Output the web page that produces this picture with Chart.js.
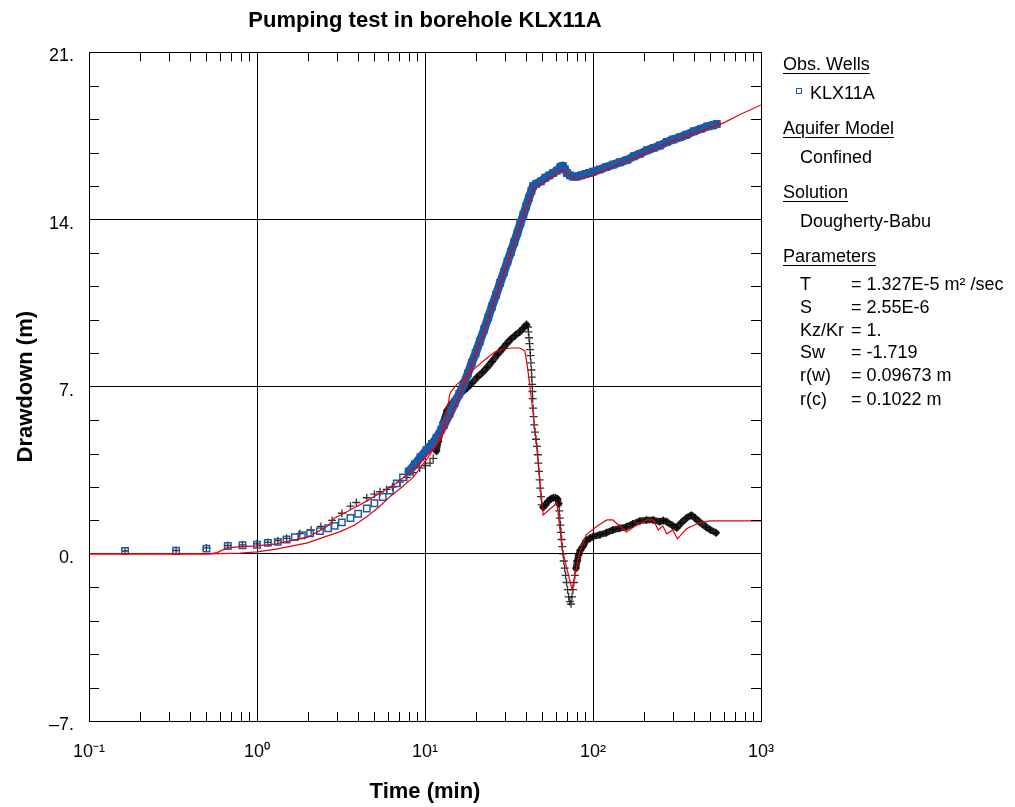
<!DOCTYPE html>
<html>
<head>
<meta charset="utf-8">
<script src="https://cdn.jsdelivr.net/npm/chart.js@4.4.0/dist/chart.umd.min.js"></script>
<style>
  body { margin: 0; background: #fff; }
  #wrap { position: relative; width: 1015px; height: 807px; }
  #panel { position: absolute; left: 0; top: 0; font-family: Arial, "Liberation Sans", sans-serif; font-size: 18px; color: #000; }
  #panel div { position: absolute; white-space: nowrap; line-height: 22px; }
  #panel .hd { text-decoration: underline; text-underline-offset: 3px; text-decoration-thickness: 1px; }
  #panel .sq { width: 4px; height: 4px; border: 1.5px solid #1c5aa8; }
</style>
</head>
<body>
<div id="wrap">
  <canvas id="chart"></canvas>
  <div id="panel"></div>
</div>
<script>
// KLX11A observation data (time in min, drawdown in m)
const obsTime = [0.164, 0.33, 0.5, 0.67, 0.82, 1.0, 1.16, 1.33, 1.5, 1.68, 1.85, 2.07, 2.37, 2.65, 2.9, 3.2, 3.6, 4.0, 4.5, 5.0, 5.6, 6.2, 6.8, 7.4,
  8.0, 8.7, 9.4, 10.2, 11.0, 11.7, 12.5, 13.0, 14.0, 15.0, 16.0, 17.0, 18.0, 19.0, 20.0, 21.2, 22.5, 23.8, 25.0, 26.5, 28.0, 29.5, 31.0, 32.5,
  34.0, 35.5, 37.0, 38.5, 40.0, 41.5, 43.0, 44.0, 46, 49, 52, 55, 58, 61, 64, 66, 68, 70, 73, 76, 80, 85, 90, 95, 100, 110, 120, 132, 145,
  160, 175, 190, 210, 230, 250, 275, 300, 330, 360, 400, 440, 480, 520, 545];
const obsDrawdown = [0.12, 0.13, 0.22, 0.33, 0.36, 0.38, 0.46, 0.5, 0.6, 0.7, 0.78, 0.86, 0.95, 1.07, 1.17, 1.32, 1.5, 1.68, 1.9, 2.12, 2.38, 2.65, 2.95, 3.2,
  3.45, 3.75, 4.05, 4.35, 4.6, 4.85, 5.2, 5.4, 5.85, 6.3, 6.7, 7.1, 7.55, 8.0, 8.4, 8.9, 9.4, 9.9, 10.35, 10.85, 11.35, 11.8, 12.25, 12.65,
  13.05, 13.45, 13.85, 14.2, 14.55, 14.9, 15.2, 15.4, 15.5, 15.6, 15.75, 15.85, 15.95, 16.05, 16.2, 16.25, 16.1, 15.95, 15.85, 15.8, 15.8, 15.85, 15.9, 15.95, 16.0, 16.1, 16.2, 16.3, 16.4,
  16.5, 16.65, 16.75, 16.9, 17.0, 17.1, 17.25, 17.35, 17.45, 17.55, 17.7, 17.8, 17.9, 17.95, 18.0];

// second data set (black crosses)
const wellTime = [0.164, 0.33, 0.5, 0.67, 0.82, 1.0, 1.16, 1.33, 1.5, 1.8, 2.1, 2.4, 2.8, 3.2, 3.6, 3.9, 4.5, 5.0, 5.4, 5.9, 6.4, 7.1, 7.8, 8.5,
  9.3, 10.0, 10.7, 11.2, 11.7, 12.0, 12.3, 12.8, 13.5, 14.3, 15.2, 16.2, 17.8, 19.0, 20.5, 22, 23.4, 25, 27, 29, 30.6, 32.5, 34.5, 36.7, 38.5, 40.2,
  41.0, 41.3, 41.6, 41.9, 42.2, 42.4, 42.7, 43.0, 43.2, 43.4, 43.6, 43.8, 44.0, 44.3, 44.7, 45.2, 45.8, 46.4, 46.9, 47.3, 47.7, 48.1, 48.5, 49.0, 49.5,
  50.5, 52, 54, 56, 58, 60, 61.5, 62.5, 63.0, 63.5, 64.0, 64.5, 65.0, 65.6, 66.3, 67, 67.8, 68.7, 69.6, 70.6, 71.6, 72.8, 74, 75, 76, 77, 78, 79.2, 80.5, 82,
  84, 87, 91, 95.6, 100, 110, 120, 131, 144, 158, 172, 190, 208, 228, 250, 262, 275, 295, 315, 335, 360, 385,
  405, 430, 470, 500, 540];
const wellDrawdown = [0.12, 0.14, 0.25, 0.35, 0.38, 0.42, 0.48, 0.55, 0.65, 0.85, 1.0, 1.15, 1.4, 1.7, 2.0, 2.15, 2.35, 2.5, 2.6, 2.7, 2.8, 3.0, 3.2, 3.4,
  3.6, 3.7, 3.8, 4.0, 4.3, 4.7, 5.06, 5.5, 6.0, 6.25, 6.5, 6.7, 6.95, 7.15, 7.4, 7.6, 7.8, 8.05, 8.35, 8.6, 8.8, 9.0, 9.15, 9.3, 9.45, 9.6,
  9.5, 9.3, 9.05, 8.8, 8.55, 8.3, 8.0, 7.7, 7.4, 7.1, 6.8, 6.5, 6.1, 5.75, 5.4, 5.1, 4.8, 4.5, 4.15, 3.8, 3.45, 3.1, 2.75, 2.4, 2.05,
  1.95, 2.05, 2.2, 2.3, 2.35, 2.35, 2.3, 2.1, 1.8, 1.5, 1.2, 0.9, 0.6, 0.3, 0.0, -0.3, -0.6, -0.9, -1.2, -1.5, -1.8, -2.0, -2.1, -1.8, -1.5, -1.2, -0.9, -0.6, -0.3, -0.05,
  0.15, 0.3, 0.55, 0.65, 0.72, 0.8, 0.88, 1.0, 1.07, 1.13, 1.25, 1.38, 1.42, 1.42, 1.34, 1.4, 1.34, 1.2, 1.09, 1.3, 1.5, 1.62,
  1.5, 1.34, 1.13, 1.0, 0.88];

// fitted curve for KLX11A
const fitObsTime = [0.1, 0.5, 0.6, 0.8, 1.0, 1.3, 1.6, 2.0, 2.5, 3.1, 3.8, 4.5, 5.3, 6.2, 7.3, 8.5, 10.2, 12.3, 14.0, 16.0, 18, 20, 22.5, 25, 28, 31, 34, 37, 40, 43, 44.5,
  55, 66, 75, 80, 90, 100, 130, 160, 200, 250, 300, 350, 400, 500, 600, 750, 1000];
const fitObsDrawdown = [0, 0, 0.01, 0.03, 0.08, 0.2, 0.32, 0.46, 0.7, 0.92, 1.2, 1.55, 1.95, 2.4, 2.8, 3.2, 3.95, 4.77, 5.6, 6.6, 7.5, 8.35, 9.35, 10.3, 11.3, 12.2, 13.0, 13.8, 14.5, 15.0, 15.3,
  15.7, 16.1, 15.75, 15.7, 15.75, 15.85, 16.2, 16.45, 16.75, 17.05, 17.3, 17.45, 17.6, 17.85, 18.05, 18.4, 18.8];

// fitted curve for the black data
const fitWellTime = [0.1, 0.52, 0.58, 0.66, 0.8, 1.0, 1.3, 1.57, 2.0, 2.6, 2.9, 3.3, 3.9, 4.6, 5.4, 6.8, 8.9, 11.7, 12.8, 13.5, 14.1, 15.5, 17.8, 20, 23.4, 26, 29.1,
  33, 36.7, 39.3, 40.8, 44, 46.4, 50.5, 61, 65.7, 75, 83, 91, 106, 121, 131, 158, 182, 209, 228, 245, 260, 275, 298, 318, 360, 430, 495, 1000];
const fitWellDrawdown = [0, 0, 0.05, 0.25, 0.3, 0.33, 0.42, 0.54, 0.7, 1.13, 1.5, 1.7, 1.97, 2.25, 2.55, 2.97, 3.65, 4.56, 5.2, 6.0, 6.74, 7.1, 7.45, 7.8, 8.2, 8.45, 8.58,
  8.62, 8.62, 8.5, 7.8, 5.9, 4.35, 1.63, 2.13, 0.17, -1.5, 0.04, 0.8, 1.17, 1.42, 1.42, 0.92, 1.21, 1.42, 1.42, 1.0, 1.17, 0.84, 1.0, 0.63, 1.05, 1.3, 1.38, 1.38];

const xTickValues = [0.1, 1, 10, 100, 1000];
const xTickLabels = ['10\u207B\u00B9', '10\u2070', '10\u00B9', '10\u00B2', '10\u00B3'];

const params = [
  ['T', '= 1.327E-5 m\u00B2 /sec'],
  ['S', '= 2.55E-6'],
  ['Kz/Kr', '= 1.'],
  ['Sw', '= -1.719'],
  ['r(w)', '= 0.09673 m'],
  ['r(c)', '= 0.1022 m']
];

const pts = (xs, ys) => xs.map((x, i) => ({ x, y: ys[i] }));
const FONT = 'Arial, "Liberation Sans", sans-serif';
Chart.defaults.font.family = FONT;
Chart.defaults.color = '#000';

// minor ticks + frame
const frame = {
  id: 'frame',
  afterDraw(chart) {
    const { ctx, chartArea: a, scales: { x, y } } = chart;
    ctx.save();
    ctx.strokeStyle = '#000';
    ctx.lineWidth = 1;
    ctx.beginPath();
    for (const d of [0.1, 1, 10, 100]) {
      for (let k = 2; k <= 9; k++) {
        const px = Math.round(x.getPixelForValue(d * k)) + 0.5;
        ctx.moveTo(px, a.top); ctx.lineTo(px, a.top + 9);
        ctx.moveTo(px, a.bottom); ctx.lineTo(px, a.bottom - 9);
      }
    }
    for (let i = 1; i < 20; i++) {
      if (i % 5 === 0) continue;
      const py = Math.round(y.getPixelForValue(-7 + i * 1.4)) + 0.5;
      ctx.moveTo(a.left, py); ctx.lineTo(a.left + 10, py);
      ctx.moveTo(a.right, py); ctx.lineTo(a.right - 10, py);
    }
    ctx.stroke();
    ctx.strokeRect(Math.round(a.left) + 0.5, Math.round(a.top) + 0.5, Math.round(a.right - a.left), Math.round(a.bottom - a.top));
    ctx.restore();
  }
};

const BLACK = 'rgba(0,0,0,0.85)';
const BLUE = '#1c5aa8';
const blackBand = c => {
  const t0 = c.p0.parsed.x, t1 = c.p1.parsed.x;
  return (t0 > 11.5 && t1 < 41) || (t0 > 50 && t1 < 62.6) || t0 > 79 ? BLACK : 'rgba(0,0,0,0)';
};

new Chart(document.getElementById('chart'), {
  type: 'scatter',
  data: {
    datasets: [
      { data: pts(fitObsTime, fitObsDrawdown), showLine: true, borderColor: '#e8000b', borderWidth: 1.2, pointRadius: 0, order: 0 },
      { data: pts(fitWellTime, fitWellDrawdown), showLine: true, borderColor: '#e8000b', borderWidth: 1.2, pointRadius: 0, order: 0 },
      { data: pts(wellTime, wellDrawdown), showLine: true, borderColor: BLACK, borderWidth: 6.5,
        segment: { borderColor: blackBand },
        pointStyle: 'cross', pointRadius: 4, borderJoinStyle: 'round', borderCapStyle: 'round', pointBorderColor: 'rgba(0,0,0,0.8)', pointBorderWidth: 1.3, order: 2 },
      { data: pts(obsTime, obsDrawdown), showLine: true, borderColor: BLUE, borderWidth: 8.5,
        segment: { borderColor: c => c.p0.parsed.x >= 7.9 ? BLUE : 'rgba(0,0,0,0)' },
        pointStyle: 'rect', pointRadius: 4.5, pointBorderColor: BLUE, pointBackgroundColor: 'rgba(0,0,0,0)', pointBorderWidth: 1.5, borderJoinStyle: 'round', borderCapStyle: 'round', order: 1 }
    ]
  },
  options: {
    responsive: true,
    maintainAspectRatio: false,
    animation: false,
    events: [],
    layout: { padding: { right: 254, left: 0, top: 0, bottom: 0 } },
    plugins: {
      legend: { display: false },
      tooltip: { enabled: false },
      title: {
        display: true, fullSize: false, text: 'Pumping test in borehole KLX11A', color: '#000',
        font: { size: 22, weight: 'bold' }, padding: { top: 8, bottom: 18 }
      }
    },
    scales: {
      x: {
        type: 'logarithmic', min: 0.1, max: 1000,
        afterBuildTicks: s => { s.ticks = xTickValues.map(v => ({ value: v })); },
        afterFit: s => { s.height = 86; },
        ticks: { autoSkip: false, maxRotation: 0, padding: 20, font: { size: 18 }, color: '#000',
          callback: (v) => xTickLabels[xTickValues.indexOf(v)] },
        grid: { color: '#000', lineWidth: 1, drawTicks: false },
        border: { color: '#000' },
        title: { display: true, text: 'Time (min)', font: { size: 22, weight: 'bold' }, color: '#000', padding: { top: 2, bottom: 2 } }
      },
      y: {
        min: -7, max: 21,
        afterBuildTicks: s => { s.ticks = [-7, 0, 7, 14, 21].map(v => ({ value: v })); },
        afterFit: s => { s.width = 89; },
        ticks: { padding: 15, labelOffset: 4, font: { size: 18 }, color: '#000',
          callback: v => (v < 0 ? '\u2013' + Math.abs(v) : v) + '.' },
        grid: { color: '#000', lineWidth: 1, drawTicks: false },
        border: { color: '#000' },
        title: { display: true, text: 'Drawdown (m)', font: { size: 22, weight: 'bold' }, color: '#000', padding: { top: 13, bottom: 13 } }
      }
    }
  },
  plugins: [frame]
});

// info panel on the right
const panel = document.getElementById('panel');
function addText(txt, left, top, cls) {
  const d = document.createElement('div');
  d.textContent = txt;
  d.style.left = left + 'px';
  d.style.top = top + 'px';
  if (cls) d.className = cls;
  panel.appendChild(d);
  return d;
}
addText('Obs. Wells', 783, 53, 'hd');
addText('', 796, 88, 'sq');
addText('KLX11A', 810, 82);
addText('Aquifer Model', 783, 117, 'hd');
addText('Confined', 800, 146);
addText('Solution', 783, 181, 'hd');
addText('Dougherty-Babu', 800, 210);
addText('Parameters', 783, 245, 'hd');
const rowTops = [273, 296, 319, 341, 364, 388];
params.forEach(([k, v], i) => {
  addText(k, 800, rowTops[i]);
  addText(v, 851, rowTops[i]);
});
</script>
</body>
</html>
